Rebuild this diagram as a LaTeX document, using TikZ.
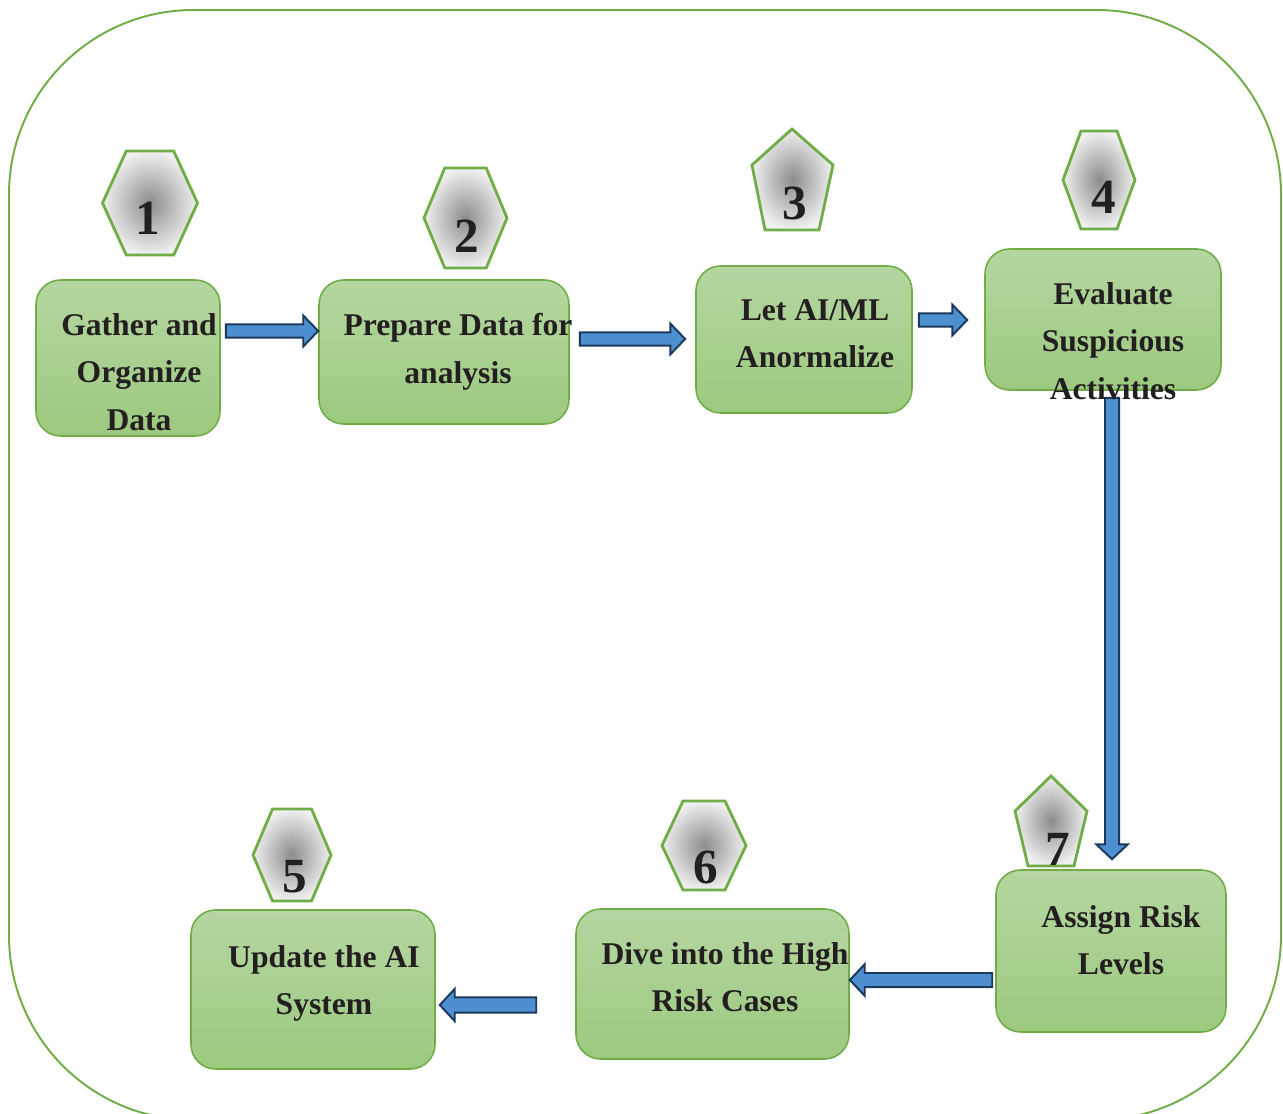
\documentclass[tikz,border=0pt]{standalone}
\usepackage{fontspec}
\setmainfont{Liberation Serif}
\usepackage{xcolor}
\usetikzlibrary{calc, fit, positioning}
\definecolor{leafgreen}{HTML}{70AD47}
\definecolor{boxtop}{HTML}{B5D6A1}
\definecolor{boxbottom}{HTML}{9CC97F}
\definecolor{arrowblue}{HTML}{4E8FD0}
\definecolor{arrownavy}{HTML}{1B385A}
\definecolor{inkdark}{HTML}{231F20}

\tikzset{
  stepbox/.style={draw=leafgreen, line width=0.9pt, rounded corners=14pt, top color=boxtop, bottom color=boxbottom, inner sep=0pt},
  steptext/.style={font=\fontsize{18pt}{27pt}\selectfont\bfseries, text=inkdark, align=center, anchor=north, inner sep=0pt},
  badge/.style={draw=leafgreen, line width=1.6pt, line join=miter, inner color=black!45, outer color=black!6},
  badgenum/.style={font=\fontsize{28pt}{30pt}\selectfont\bfseries, text=inkdark, anchor=base, inner sep=0pt},
  barrow/.style={draw=arrownavy, fill=arrowblue, line width=1.1pt, line join=miter}
}

% block arrow: from, to, half shaft, half head
\newcommand{\headlen}{8.5pt}
\newcommand{\blockarrow}[4]{%
  \coordinate (ba-s) at (#1);
  \coordinate (ba-e) at (#2);
  \coordinate (ba-n) at ($(ba-e)!\headlen!(ba-s)$);
  \draw[barrow] ($(ba-s)!#3!90:(ba-e)$) -- ($(ba-n)!#3!90:(ba-e)$) -- ($(ba-n)!#4!90:(ba-e)$)
    -- (ba-e) -- ($(ba-n)!#4!-90:(ba-e)$) -- ($(ba-n)!#3!-90:(ba-e)$) -- ($(ba-s)!#3!-90:(ba-e)$) -- cycle;
}

\begin{document}
\begin{tikzpicture}[x=0.02cm, y=-0.02cm]
    \useasboundingbox (0,0) rectangle (1283,1114);

    % Outer frame
    \draw[leafgreen, line width=1.1pt, rounded corners=105pt] (9,10) rectangle (1281,1120);

    % Step boxes
    \node[stepbox, fit={(36,280) (220,436)}] (s1) {};
    \node[stepbox, fit={(319,280) (569,424)}] (s2) {};
    \node[stepbox, fit={(696,266) (912,413)}] (s3) {};
    \node[stepbox, fit={(985,249) (1221,390)}] (s4) {};
    \node[stepbox, fit={(191,910) (435,1069)}] (s5) {};
    \node[stepbox, fit={(576,909) (849,1059)}] (s6) {};
    \node[stepbox, fit={(996,870) (1226,1032)}] (s7) {};

    % Number badges
    \foreach \cx/\cy/\hw/\hh in {150/203/47.5/52, 465.5/218/41.5/50, 1099/180/36/49, 292/855/39/46, 704/845.5/42/44.5}
      \shade[badge] (\cx-\hw,\cy) -- (\cx-\hw/2,\cy-\hh) -- (\cx+\hw/2,\cy-\hh) -- (\cx+\hw,\cy)
        -- (\cx+\hw/2,\cy+\hh) -- (\cx-\hw/2,\cy+\hh) -- cycle;
    \shade[badge] (792,129) -- (833,165) -- (819,230) -- (765,230) -- (752,165) -- cycle;
    \shade[badge] (1051,776) -- (1087,811) -- (1074,866) -- (1028,866) -- (1015,811) -- cycle;

    \node[badgenum] (n1) at (148,235) {1};
    \node[badgenum] (n2) at (467,253) {2};
    \node[badgenum] (n3) at (795,220) {3};
    \node[badgenum] (n4) at (1104,214) {4};
    \node[badgenum] (n5) at (295,892) {5};
    \node[badgenum] (n6) at (706,883) {6};
    \node[badgenum] (n7) at (1058,865) {7};

    % Flow arrows
    \blockarrow{$(s1.east |- 0,331)+(5,0)$}{s2.west |- 0,331}{3.8pt}{8.8pt}
    \blockarrow{$(s2.east |- 0,339)+(10,0)$}{$(s3.west |- 0,339)+(-10,0)$}{3.8pt}{8.8pt}
    \blockarrow{$(s3.east |- 0,320)+(6,0)$}{$(s4.west |- 0,320)+(-17,0)$}{3.8pt}{8.8pt}
    \blockarrow{$(s4.south -| 1112,0)+(0,7)$}{$(s7.north -| 1112,0)+(0,-10)$}{4pt}{9pt}
    \blockarrow{$(s7.west |- 0,980)+(-3,0)$}{s6.east |- 0,980}{4pt}{9pt}
    \blockarrow{$(s6.west |- 0,1005)+(-39,0)$}{$(s5.east |- 0,1005)+(4,0)$}{4.3pt}{9.2pt}

    % Step texts
    \node[steptext] (t1) at (139,313) {Gather and\\Organize\\Data};
    \node[steptext] (t2) at (458,313) {Prepare Data for\\analysis};
    \node[steptext] (t3) at (815,299) {Let AI/ML\\Anormalize};
    \node[steptext] (t4) at (1113,282) {Evaluate\\Suspicious\\Activities};
    \node[steptext] (t5) at (324,945) {Update the AI\\System};
    \node[steptext] (t6) at (725,942) {Dive into the High\\Risk Cases};
    \node[steptext] (t7) at (1121,905) {Assign Risk\\Levels};
\end{tikzpicture}
\end{document}
